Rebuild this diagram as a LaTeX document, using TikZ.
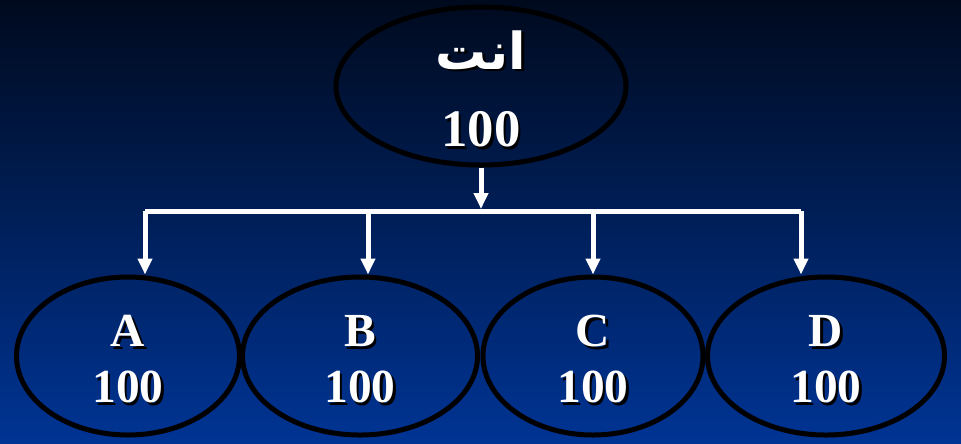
\documentclass[tikz,border=0pt]{standalone}
\usepackage{fontspec}
\setmainfont{Liberation Serif}
\newfontfamily\arabicfont[Script=Arabic]{DejaVu Sans}
\TeXXeTstate=1
\usetikzlibrary{arrows.meta,shapes.geometric}

\definecolor{skytop}{HTML}{000A1E}
\definecolor{skybottom}{HTML}{003494}
\definecolor{shadowblack}{HTML}{000000}

\newcommand\shadowed[1]{\makebox[0pt][l]{\kern1.3pt\raisebox{-1.3pt}{\color{shadowblack}#1}}#1}

\tikzset{
  bubble/.style={ellipse, draw=black, line width=1mm, inner sep=0pt,
    minimum height=31.6mm, text=white, align=center},
  link/.style={draw=white, line width=1mm},
  flow/.style={link, -{Triangle[width=2.8mm,length=3.2mm]}}
}

\begin{document}
\begin{tikzpicture}[x=0.2mm,y=-0.2mm]
        % background
        \useasboundingbox (0,0) rectangle (961,443);
        \shade[top color=skytop, bottom color=skybottom] (0,0) rectangle (961,443);

        % top node
        \node[bubble, inner ysep=-8pt, minimum width=58mm, font=\bfseries\fontsize{30}{44}\selectfont]
          (you) at (481,86) {\rule{0pt}{27pt}\shadowed{\arabicfont\bfseries\fontsize{29}{44}\selectfont\beginR انت\endR}\\\shadowed{100}};

        % bottom nodes
        \node[bubble, minimum width=44.6mm, font=\bfseries\fontsize{27}{32}\selectfont]
          (A) at (128,356) {\rule{0pt}{23pt}\shadowed{A}\\\shadowed{100}};
        \node[bubble, minimum width=47mm, font=\bfseries\fontsize{27}{32}\selectfont]
          (B) at (360,356) {\rule{0pt}{23pt}\shadowed{B}\\\shadowed{100}};
        \node[bubble, minimum width=44mm, font=\bfseries\fontsize{27}{32}\selectfont]
          (C) at (593,356) {\rule{0pt}{23pt}\shadowed{C}\\\shadowed{100}};
        \node[bubble, minimum width=47.4mm, font=\bfseries\fontsize{27}{32}\selectfont]
          (D) at (826,356) {\rule{0pt}{23pt}\shadowed{D}\\\shadowed{100}};

        % connector points on the bar
        \coordinate (hub) at (481,209);
        \coordinate (dropA) at (145,211);
        \coordinate (dropB) at (368,211);
        \coordinate (dropC) at (593,211);
        \coordinate (dropD) at (801,211);

        % draw connectors
        \draw[flow] (you.south) -- (hub);
        \draw[link] (dropA) -- (dropD);
        \foreach \n in {A,B,C,D}
          \draw[flow] (drop\n) -- (drop\n |- \n.north);
\end{tikzpicture}
\end{document}
